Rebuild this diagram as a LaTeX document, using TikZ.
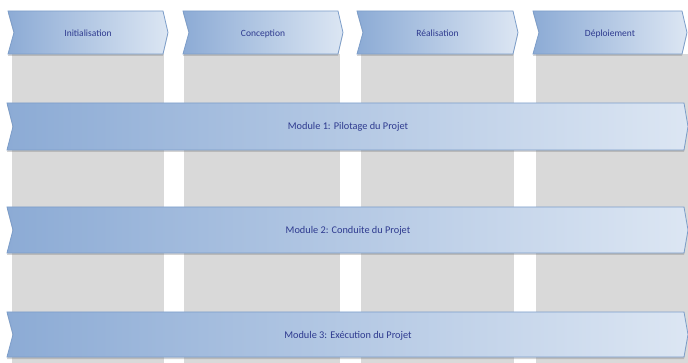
\documentclass[tikz,border=0pt]{standalone}
\usepackage{fontspec}
\setmainfont{Carlito}
\usetikzlibrary{shadows}
\definecolor{bandL}{HTML}{8CABD5}
\definecolor{bandR}{HTML}{DCE6F3}
\definecolor{bandEdge}{HTML}{7C9DC9}
\definecolor{colgray}{HTML}{D9D9D9}
\definecolor{txtblue}{HTML}{2E3A8F}
\tikzset{
  phasecol/.style={fill=colgray},
  bandshape/.style={left color=bandL, right color=bandR, draw=bandEdge, line width=0.8pt,
    drop shadow={opacity=0.35, shadow xshift=0pt, shadow yshift=-2pt}},
  lbl/.style={text=txtblue, inner sep=0pt, anchor=base},
  phaselbl/.style={lbl, font=\fontsize{9.5}{12}\selectfont},
  modlbl/.style={lbl, font=\fontsize{10.3}{12}\selectfont}
}
\begin{document}
\begin{tikzpicture}[x=1pt,y=-1pt]
\useasboundingbox (0,0) rectangle (688,363);
% gray columns
\fill[phasecol] (12,54) rectangle (164,363);
\fill[phasecol] (184,54) rectangle (340,363);
\fill[phasecol] (361,54) rectangle (514,363);
\fill[phasecol] (536,54) rectangle (688,363);
% phase chevrons
\foreach \L/\R/\nm/\txt in {8/168/p1/Initialisation, 183/343/p2/Conception, 357/518/p3/Réalisation, 533/687/p4/Déploiement}{
  \path[bandshape] (\L,11) -- (\R-5,11) -- (\R,32.5) -- (\R-5,54) -- (\L,54) -- (\L+6,32.5) -- cycle;
  \node[phaselbl] (\nm) at ({(\L+\R)/2},37) {\txt};
}
% module bands
\foreach \T/\B/\nm/\txt in {103/150/m1/{Module 1: Pilotage du Projet}, 207/253/m2/{Module 2: Conduite du Projet}, 312/357/m3/{Module 3: Exécution du Projet}}{
  \path[bandshape] (7,\T) -- (684,\T) -- (688,{(\T+\B)/2}) -- (684,\B) -- (7,\B) -- (13,{(\T+\B)/2}) -- cycle;
  \node[modlbl] (\nm) at (348,{(\T+\B)/2+3.5}) {\txt};
}
\end{tikzpicture}
\end{document}
